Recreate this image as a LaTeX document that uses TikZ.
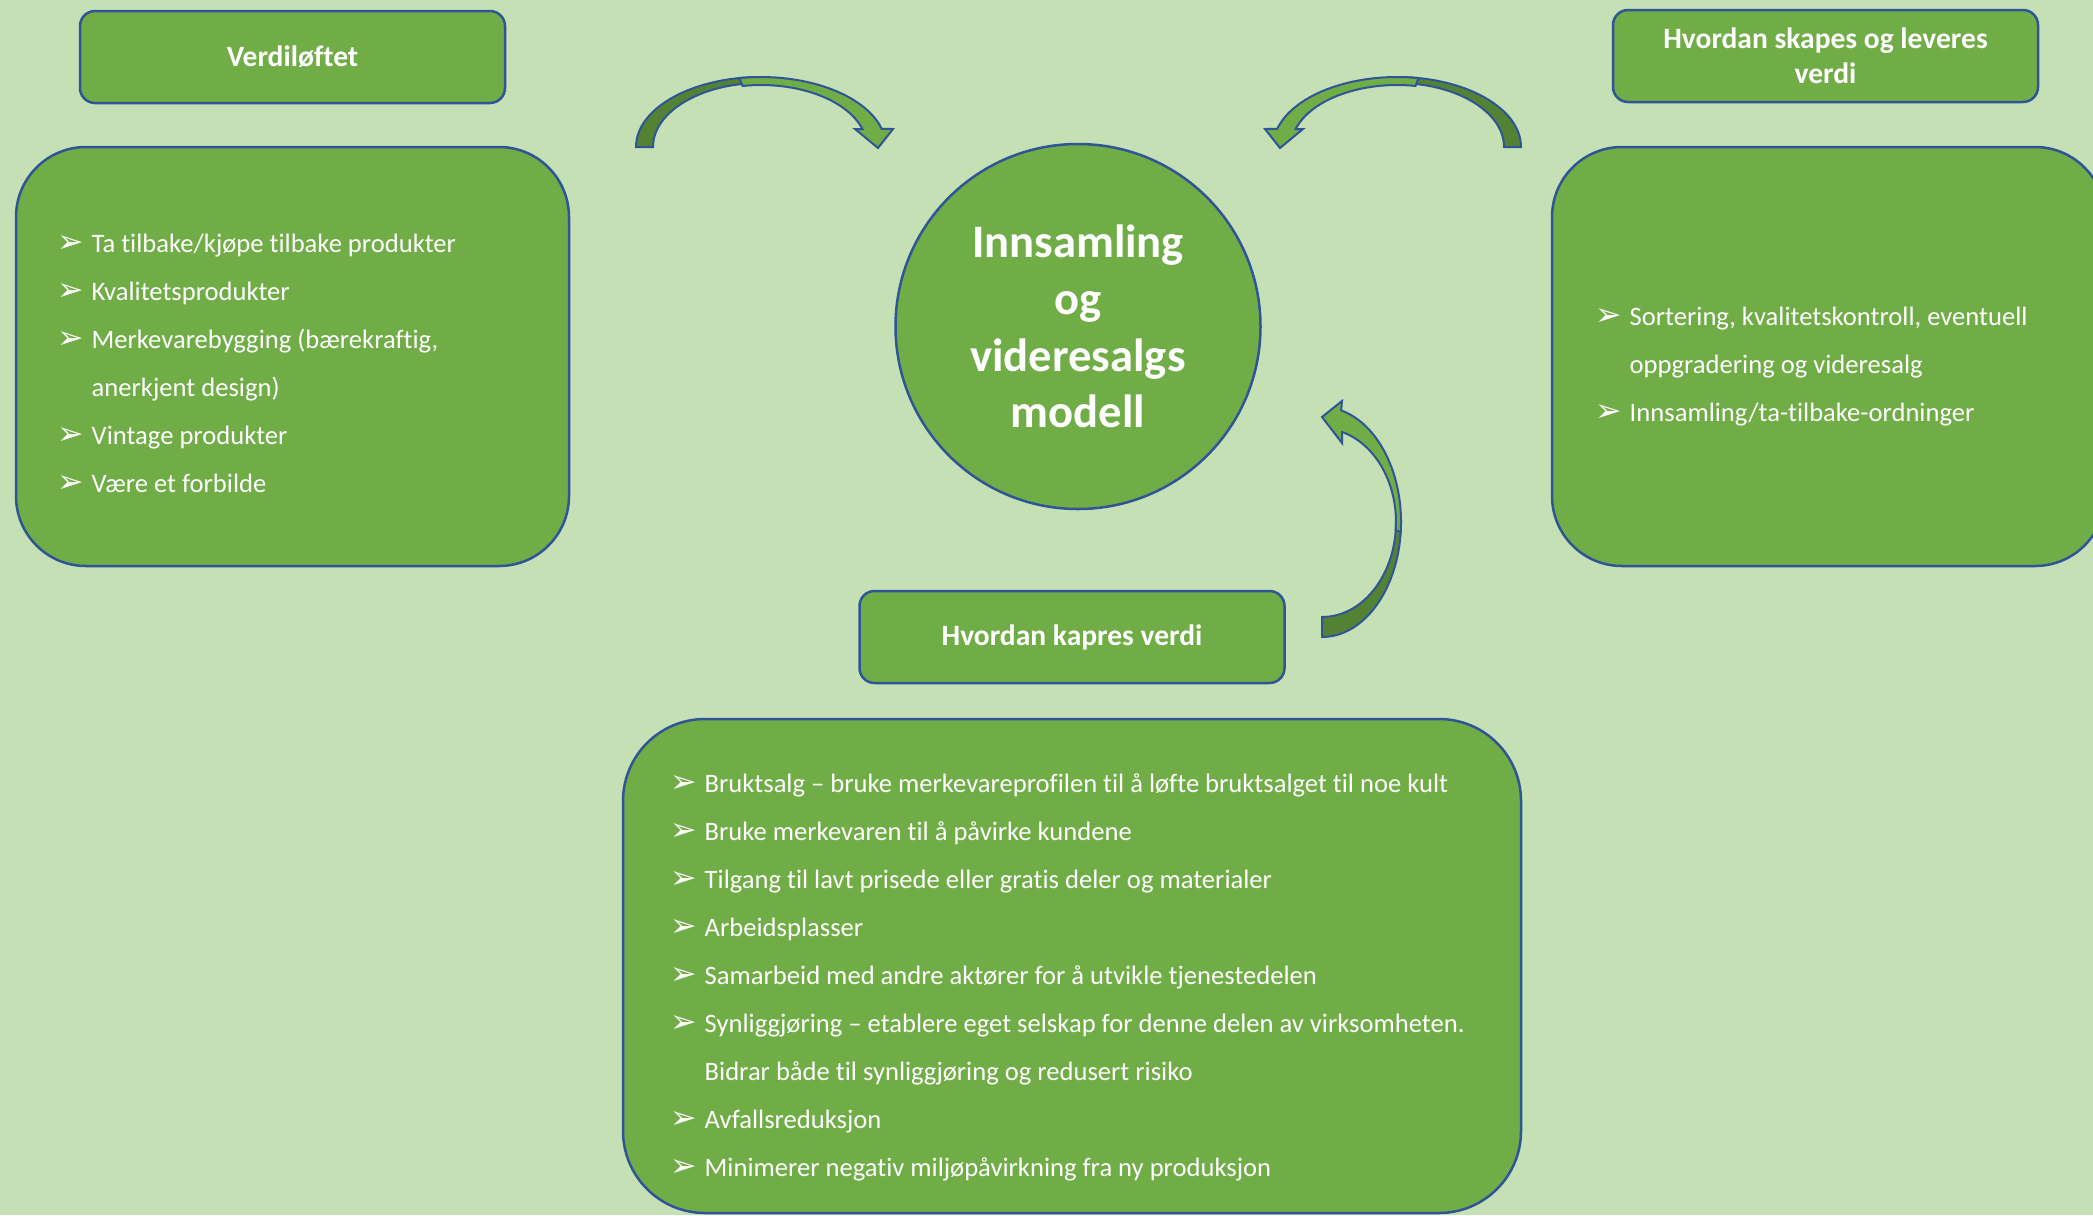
\documentclass[tikz,border=0pt]{standalone}
\usepackage{fontspec}
\setmainfont{Carlito}[Ligatures=NoCommon]
\newfontfamily\pilfont{DejaVu Sans}
\usepackage{tikz}

\definecolor{bakgrunn}{HTML}{C5E0B4}
\definecolor{boks}{HTML}{70AD47}
\definecolor{kant}{HTML}{2F5597}
\definecolor{mork}{HTML}{548235}

\newcommand{\pil}{\strut\makebox[0.34cm][l]{\pilfont\fontsize{9}{9}\selectfont ➢}}
\newcommand{\fort}{\strut\hspace*{0.34cm}}

\begin{document}
\begin{tikzpicture}[
    boksstil/.style={draw=kant, fill=boks, line width=0.025cm, rectangle},
    titel/.style={boksstil, rounded corners=0.15cm, minimum width=4.25cm, minimum height=0.92cm, text=white, font=\bfseries\fontsize{8.4}{10}\selectfont, align=center, inner sep=0pt},
    stor/.style={boksstil, rounded corners=0.7cm, minimum width=5.53cm, minimum height=4.19cm},
    sirkel/.style={draw=kant, fill=boks, line width=0.025cm, circle, minimum size=3.65cm, text=white, font=\bfseries\fontsize{13.26}{16.14}\selectfont, align=center, inner sep=0pt},
    liste/.style={text=white, font=\fontsize{7.57}{13.66}\selectfont, align=left, anchor=north west, inner sep=0pt},
    bue/.style={draw=kant, line width=0.02cm}
]
        \useasboundingbox (0,0) rectangle (20.93,-12.15);
        \clip (0,0) rectangle (20.93,-12.15);
        \fill[bakgrunn] (0,0) rectangle (20.93,-12.15);

        \draw (2.925,-0.57) node[titel] (verdiloftet) {Verdiløftet};
        \draw (18.255,-0.56) node[titel] (skapes) {Hvordan skapes og leveres\\verdi};
        \draw (10.72,-6.37) node[titel] (kapres) {Hvordan kapres verdi};

        \draw (2.925,-3.565) node[stor] (verdiboks) {};
        \draw (18.285,-3.565) node[stor] (skapeboks) {};
        \draw (10.72,-9.66) node[stor, minimum width=8.98cm, minimum height=4.94cm, rounded corners=0.82cm] (kapreboks) {};

        \draw (10.78,-3.265) node[sirkel] (modell) {Innsamling\\og\\videresalgs\\modell};

        \draw[bue, fill=mork] (6.36,-1.47) arc[start angle=180, end angle=90, x radius=1.25, y radius=0.70] -- (7.61,-0.83) arc[start angle=90, end angle=180, x radius=1.08, y radius=0.64] -- cycle;
        \draw[bue, fill=boks] (7.393,-0.781) arc[start angle=100, end angle=15, x radius=1.25, y radius=0.70] -- (8.93,-1.29) -- (8.78,-1.48) -- (8.55,-1.29) -- (8.624,-1.29) arc[start angle=16.9, end angle=100, x radius=1.06, y radius=0.62] -- cycle;

        \draw[bue, fill=mork] (15.21,-1.47) arc[start angle=0, end angle=90, x radius=1.24, y radius=0.70] -- (13.97,-0.83) arc[start angle=90, end angle=0, x radius=1.07, y radius=0.64] -- cycle;
        \draw[bue, fill=boks] (14.185,-0.781) arc[start angle=80, end angle=165, x radius=1.24, y radius=0.70] -- (12.65,-1.29) -- (12.80,-1.48) -- (13.03,-1.29) -- (12.956,-1.29) arc[start angle=163.1, end angle=80, x radius=1.06, y radius=0.62] -- cycle;

        \draw[bue, fill=mork] (13.22,-6.37) arc[start angle=270, end angle=360, x radius=0.79, y radius=1.15] -- (13.96,-5.22) arc[start angle=360, end angle=270, x radius=0.74, y radius=0.95] -- cycle;
        \draw[bue, fill=boks] (14.007,-5.320) arc[start angle=-5, end angle=76, x radius=0.79, y radius=1.15] -- (13.42,-4.01) -- (13.22,-4.17) -- (13.42,-4.43) -- (13.42,-4.32) arc[start angle=74.3, end angle=-5, x radius=0.74, y radius=0.935] -- cycle;

        \draw (0.57,-2.184) node[liste] (verdiliste) {\pil Ta tilbake/kjøpe tilbake produkter\\ \pil Kvalitetsprodukter\\ \pil Merkevarebygging (bærekraftig,\\ \fort anerkjent design)\\ \pil Vintage produkter\\ \pil Være et forbilde};

        \draw (15.95,-2.914) node[liste] (skapeliste) {\pil Sortering, kvalitetskontroll, eventuell\\ \fort oppgradering og videresalg\\ \pil Innsamling/ta-tilbake-ordninger};

        \draw (6.70,-7.584) node[liste] (kapreliste) {\pil Bruktsalg – bruke merkevareprofilen til å løfte bruktsalget til noe kult\\ \pil Bruke merkevaren til å påvirke kundene\\ \pil Tilgang til lavt prisede eller gratis deler og materialer\\ \pil Arbeidsplasser\\ \pil Samarbeid med andre aktører for å utvikle tjenestedelen\\ \pil Synliggjøring – etablere eget selskap for denne delen av virksomheten.\\ \fort Bidrar både til synliggjøring og redusert risiko\\ \pil Avfallsreduksjon\\ \pil Minimerer negativ miljøpåvirkning fra ny produksjon};
\end{tikzpicture}
\end{document}
